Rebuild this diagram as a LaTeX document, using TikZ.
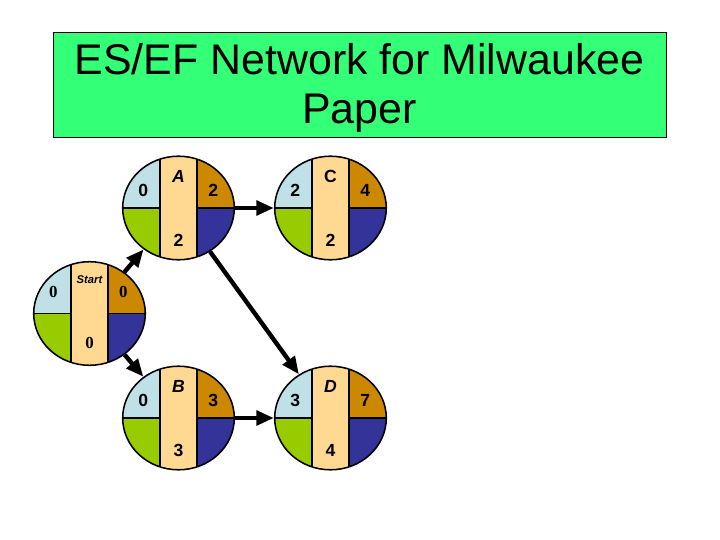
\documentclass[tikz,border=0pt]{standalone}
\usepackage{fontspec}
\setmainfont{Liberation Sans}
\newfontfamily\startnumfont{Liberation Serif}
\usepackage{xcolor}
\usepackage{tikz}
\usetikzlibrary{arrows.meta,shapes.geometric}

\definecolor{titlegreen}{RGB}{51,255,119}
\definecolor{esblue}{RGB}{190,224,230}
\definecolor{efgold}{RGB}{204,136,0}
\definecolor{lsgreen}{RGB}{153,204,0}
\definecolor{lfblue}{RGB}{51,51,153}
\definecolor{durbeige}{RGB}{255,217,145}

\begin{document}
\begin{tikzpicture}[scale=1.0,
  act/.style={ellipse,draw,line width=1.1pt,inner sep=0pt,
    minimum width=2.79cm,minimum height=2.59cm,
    path picture={
      \fill[esblue] (path picture bounding box.center) rectangle (path picture bounding box.north west);
      \fill[efgold] (path picture bounding box.center) rectangle (path picture bounding box.north east);
      \fill[lsgreen] (path picture bounding box.center) rectangle (path picture bounding box.south west);
      \fill[lfblue] (path picture bounding box.center) rectangle (path picture bounding box.south east);
      \draw[line width=1.1pt] (path picture bounding box.west) -- (path picture bounding box.east);
      \draw[line width=1.1pt,fill=durbeige] ([xshift=-0.4625cm]path picture bounding box.north)
        rectangle ([xshift=0.4625cm]path picture bounding box.south);
    }},
  num/.style={font=\fontsize{12.5}{14}\selectfont\bfseries,inner sep=0pt},
  snum/.style={font=\fontsize{12}{14}\selectfont\startnumfont\bfseries,inner sep=0pt},
  arr/.style={line width=0.11cm,-{Triangle[length=0.44cm,width=0.36cm]}}]
  \useasboundingbox (0,0) rectangle (18,13.5);
  % title box
  \draw[fill=titlegreen,line width=0.6pt] (1.325,10.075) rectangle (16.65,12.6825);
  \node[align=center,font=\fontsize{30.5}{34.9}\selectfont] (title) at (8.9875,11.31)
    {ES/EF Network for Milwaukee\\Paper};

  % activity nodes
  \node[act] (start) at (2.2375,5.6625) {};
  \node[act] (actA) at (4.4625,8.3) {};
  \node[act] (actC) at (8.2625,8.3) {};
  \node[act] (actB) at (4.4625,3.05) {};
  \node[act] (actD) at (8.2625,3.05) {};

  % start
  \node[snum,xshift=-0.905cm,yshift=0.53cm] (startES) at (start) {0};
  \node[font=\fontsize{8}{9}\selectfont\bfseries\itshape,inner sep=0pt,yshift=0.84cm] (startLbl) at (start) {Start};
  \node[snum,xshift=0.845cm,yshift=0.53cm] (startEF) at (start) {0};
  \node[snum,yshift=-0.745cm] (startDur) at (start) {0};
  % A
  \node[num,xshift=-0.88cm,yshift=0.43cm] (aES) at (actA) {0};
  \node[num,font=\fontsize{12.5}{14}\selectfont\bfseries\itshape,yshift=0.8cm] (aLbl) at (actA) {A};
  \node[num,xshift=0.87cm,yshift=0.43cm] (aEF) at (actA) {2};
  \node[num,yshift=-0.8cm] (aDur) at (actA) {2};
  % C
  \node[num,xshift=-0.88cm,yshift=0.43cm] (cES) at (actC) {2};
  \node[num,yshift=0.8cm] (cLbl) at (actC) {C};
  \node[num,xshift=0.87cm,yshift=0.43cm] (cEF) at (actC) {4};
  \node[num,yshift=-0.8cm] (cDur) at (actC) {2};
  % B
  \node[num,xshift=-0.88cm,yshift=0.43cm] (bES) at (actB) {0};
  \node[num,font=\fontsize{12.5}{14}\selectfont\bfseries\itshape,yshift=0.8cm] (bLbl) at (actB) {B};
  \node[num,xshift=0.87cm,yshift=0.43cm] (bEF) at (actB) {3};
  \node[num,yshift=-0.82cm] (bDur) at (actB) {3};
  % D
  \node[num,xshift=-0.88cm,yshift=0.43cm] (dES) at (actD) {3};
  \node[num,font=\fontsize{12.5}{14}\selectfont\bfseries\itshape,yshift=0.8cm] (dLbl) at (actD) {D};
  \node[num,xshift=0.87cm,yshift=0.43cm] (dEF) at (actD) {7};
  \node[num,yshift=-0.82cm] (dDur) at (actD) {4};

  % precedence arrows
  \draw[arr] (start) -- (actA);
  \draw[arr] (start) -- (actB);
  \draw[arr] (actA) -- (actC);
  \draw[arr] (actA) -- (actD);
  \draw[arr] (actB) -- (actD);
\end{tikzpicture}
\end{document}
